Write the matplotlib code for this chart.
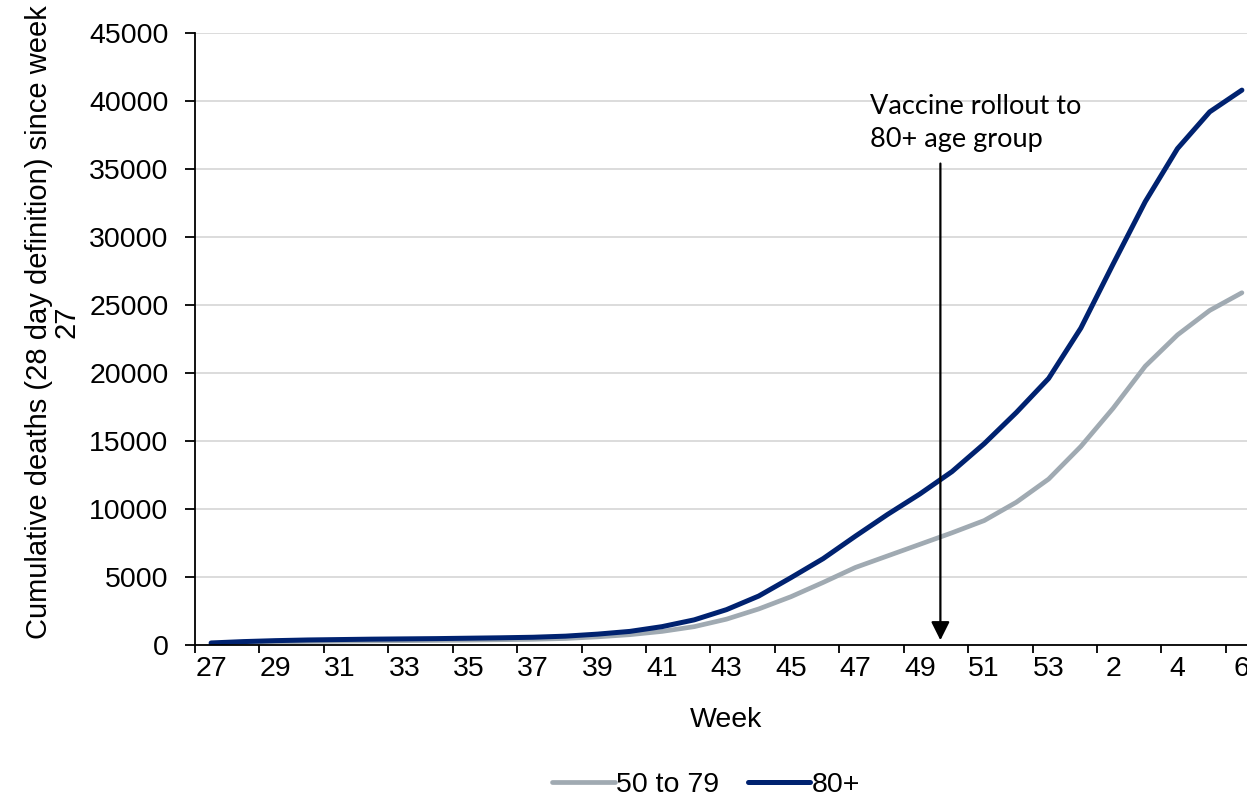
import numpy as np
import matplotlib.pyplot as plt

weeks = list(range(27, 54)) + list(range(1, 7))

age_50_79 = [100, 180, 230, 260, 280, 300, 320, 340, 360, 390, 420, 480, 600,
             760, 1000, 1350, 1900, 2650, 3550, 4600, 5700, 6550, 7400, 8250,
             9150, 10500, 12200, 14600, 17400, 20500, 22800, 24600, 25900]
age_80_plus = [150, 250, 320, 370, 400, 430, 450, 470, 500, 530, 570, 650, 800,
               1000, 1350, 1850, 2600, 3600, 4950, 6350, 8000, 9600, 11100, 12750,
               14800, 17100, 19600, 23300, 28000, 32600, 36500, 39200, 40800]

tick_labels = [str(w) for w in weeks]

plt.rcParams['font.family'] = ['Liberation Sans', 'DejaVu Sans']

fig = plt.figure(figsize=(12.47, 8.01), dpi=100)
ax = fig.add_axes([195 / 1247, 156 / 801, 1063 / 1247, 612 / 801])

x = np.arange(len(weeks))
ax.plot(x, age_50_79, color='#a0aab2', lw=3.4, label='50 to 79', solid_capstyle='round')
ax.plot(x, age_80_plus, color='#002270', lw=3.6, label='80+', solid_capstyle='round')

ax.set_xlim(-0.5, len(weeks) - 0.5)
ax.set_ylim(0, 45000)
ax.set_yticks(np.arange(0, 45001, 5000))
ax.grid(axis='y', color='#d9d9d9', lw=1.3)
ax.set_axisbelow(True)

# ticks between categories, labels on every second category
ax.set_xticks(np.arange(-0.5, len(weeks), 2))
ax.set_xticklabels([])
ax.set_xticks(x[::2], minor=True)
ax.set_xticklabels(tick_labels[::2], minor=True)
ax.tick_params(axis='x', which='minor', length=0, pad=8, labelsize=20.5)
ax.tick_params(axis='x', which='major', length=5.5, width=1.3)
ax.tick_params(axis='y', length=7, width=1.3, pad=12, labelsize=20.5)

for s in ['top', 'right']:
    ax.spines[s].set_visible(False)
for s in ['left', 'bottom']:
    ax.spines[s].set_linewidth(1.3)

ax.set_xlabel('Week', fontsize=20.5, labelpad=18)
ax.set_ylabel('Cumulative deaths (28 day definition) since week\n27', fontsize=21,
              linespacing=1.0, labelpad=6)
ax.yaxis.label.set_y(0.528)

ax.annotate('', xy=(22.64, 350), xytext=(22.64, 35400),
            arrowprops=dict(arrowstyle='-|>', color='black', lw=1.6,
                            mutation_scale=28, shrinkA=0, shrinkB=0))
ax.text(20.46, 40550, 'Vaccine rollout to\n80+ age group', fontsize=19.5,
        family='Lato', va='top', ha='left', linespacing=1.4)

fig.legend(loc='center', bbox_to_anchor=(706 / 1247, 1 - 785 / 801), ncol=2,
           frameon=False, fontsize=20.5, handlelength=2.2, handletextpad=0.05,
           columnspacing=1.0)

fig.savefig('out.png', dpi=100)
